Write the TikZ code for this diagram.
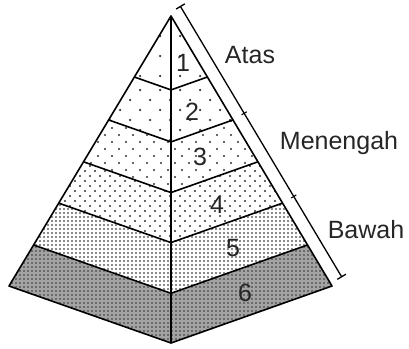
\documentclass[tikz,border=0pt]{standalone}
\usepackage{fontspec}
\setmainfont{Liberation Sans}
\usetikzlibrary{calc,arrows.meta}

% dots of one band: top y, bottom y, step x, step y, row shift, colour, radius
\newcommand{\banddots}[7]{%
  \pgfmathtruncatemacro{\nrows}{(#2-#1)/#4+1}%
  \pgfmathtruncatemacro{\ncols}{340/#3+1}%
  \foreach \r in {0,...,\nrows}{%
    \foreach \c in {0,...,\ncols}{%
      \fill[#6] ({\c*#3+mod(\r,2)*#5}, {#1+\r*#4}) circle[radius=#7pt];
    }%
  }%
}

\begin{document}
\begin{tikzpicture}[x=1pt, y=-1pt, line join=round]
    \tikzstyle{edge}=[draw=black, line width=1.6pt]
    \tikzstyle{label}=[text=black!85, font=\fontsize{25}{29}\selectfont, inner sep=0pt]
    \useasboundingbox (0,0) rectangle (409,348);

    % Corners of the pyramid
    \coordinate (A) at (171,16);
    \coordinate (BL) at (9,286);
    \coordinate (BR) at (332,286);
    \coordinate (BF) at (171,343);

    % Band boundaries (left, ridge, right)
    \foreach \t [count=\k from 0] in {0,0.226,0.385,0.54,0.693,0.848,1} {
        \coordinate (L\k) at ($(A)!\t!(BL)$);
        \coordinate (M\k) at ($(A)!\t!(BF)$);
        \coordinate (R\k) at ($(A)!\t!(BR)$);
    }

    % Band fills
    \foreach \i/\j/\top/\bot/\dx/\dy/\sh/\back/\col/\rad in {
        0/1/16/92/20/20/0/white/black!80/1.25,
        1/2/70/145/20/10/10/white/black!80/1.25,
        2/3/114/196/14/7/7/white/black!80/1.15,
        3/4/156/246/10/5/5/white/black!80/1.05,
        4/5/197/298/4/4/0/white/black!62/1.1,
        5/6/239/346/4/4/0/black!36/black!80/0.9} {
        \begin{scope}
            \clip (L\i) -- (M\i) -- (R\i) -- (R\j) -- (M\j) -- (L\j) -- cycle;
            \fill[\back] (0,0) rectangle (409,348);
            \banddots{\top}{\bot}{\dx}{\dy}{\sh}{\col}{\rad}
        \end{scope}
    }

    % Outline, ridge and band lines
    \draw[edge] (A) -- (BL) -- (BF) -- (BR) -- cycle;
    \draw[edge] (A) -- (BF);
    \foreach \k in {1,...,5}
        \draw[edge] (L\k) -- (M\k) -- (R\k);

    % Level numbers
    \node[label] (n1) at (183,63) {1};
    \node[label] (n2) at (192,112) {2};
    \node[label] (n3) at (200,157) {3};
    \node[label] (n4) at (217,205) {4};
    \node[label] (n5) at (233,248) {5};
    \node[label] (n6) at (245,293) {6};

    % Bar beside the right edge
    \coordinate (P) at ($(A)!13pt!90:(BR)$);
    \coordinate (Q) at ($(BR)!13pt!-90:(A)$);
    \coordinate (barT) at ($(P)!-4pt!(Q)$);
    \coordinate (barB) at ($(P)!312pt!(Q)$);
    \draw[line width=1.3pt, {Bar[width=10pt]}-{Bar[width=10pt]}] (barT) -- (barB);
    \foreach \t [count=\k] in {0.385,0.693} {
        \coordinate (tick\k) at ($(P)!\t!(Q)$);
        \draw[line width=1.1pt] ($(tick\k)!3pt!90:(Q)$) -- ($(tick\k)!3pt!-90:(Q)$);
    }

    % Level names
    \node[label] (atas) at (250,55) {Atas};
    \node[label] (menengah) at (339,143) {Menengah};
    \node[label] (bawah) at (366,230) {Bawah};
\end{tikzpicture}
\end{document}
